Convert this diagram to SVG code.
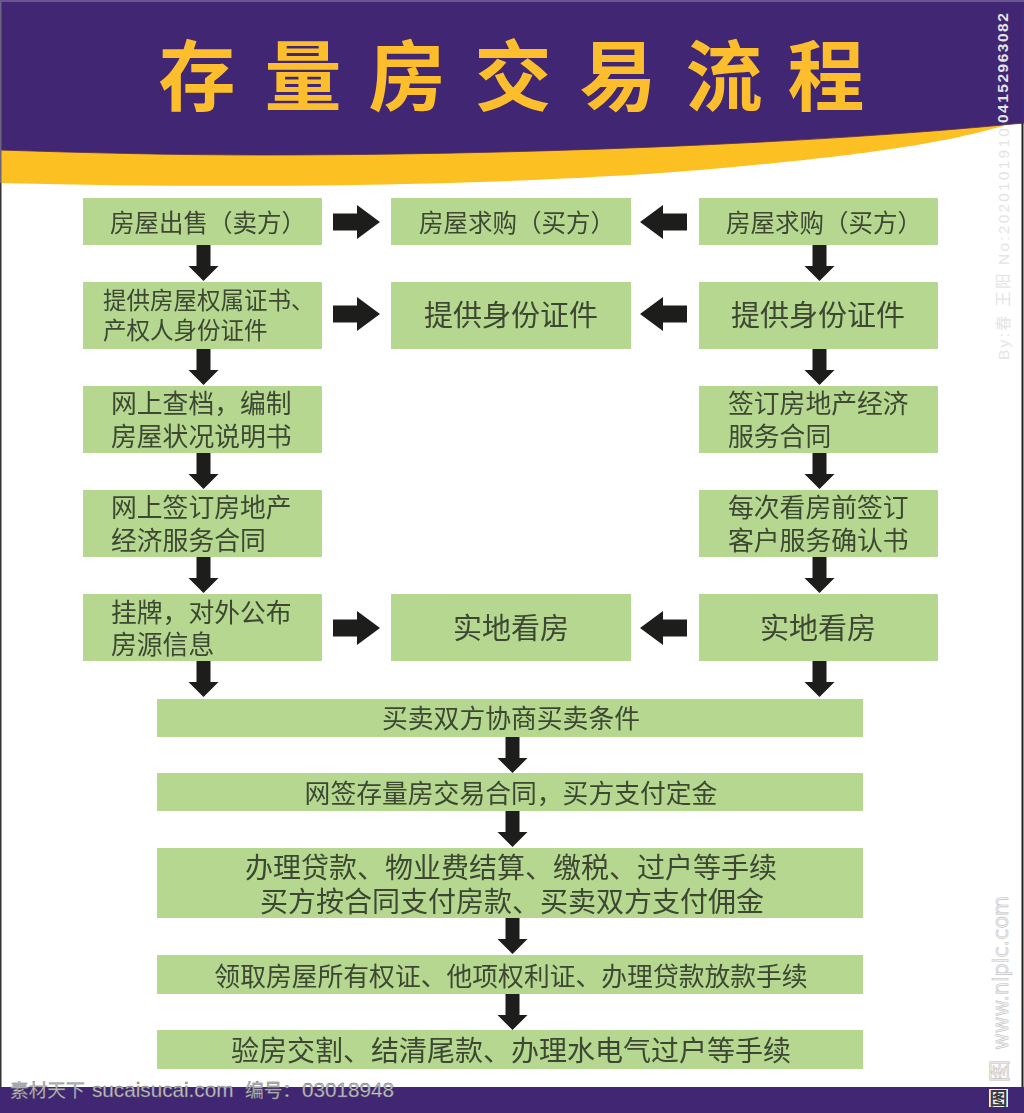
<svg xmlns="http://www.w3.org/2000/svg" width="1024" height="1113" viewBox="0 0 1024 1113">
<style>
.box{fill:#b5d78f}
.t{font-family:"Noto Sans CJK SC","Liberation Sans",sans-serif;fill:#3c4733;text-anchor:middle}
.s{text-anchor:start}
.title{font-family:"Noto Sans CJK SC",sans-serif;font-weight:700;font-size:77px;fill:#fdbe2d;text-anchor:middle}
.wm{font-family:"Liberation Sans","Noto Sans CJK SC",sans-serif;fill:#e4e4e4}
.wm2{font-family:"Liberation Sans","Noto Sans CJK SC",sans-serif;font-size:20.700px;fill:#c4c4c4;stroke:#666;stroke-width:.4}
.wm3{font-family:"DejaVu Sans","Noto Sans CJK SC",sans-serif;fill:#f4f4f4;stroke:#c4c4c4;stroke-width:.6}
</style>
<defs>
<filter id="soft" x="-5%" y="-20%" width="110%" height="140%"><feGaussianBlur stdDeviation="0.35"/></filter>
<path id="ad" d="M-7 0H7V21H15L0 36L-15 21H-7Z" fill="#1d1d1b"/>
<path id="ar" d="M0 -8.500H24V-17L47 0L24 17V8.500H0Z" fill="#1d1d1b"/>
<path id="al" d="M0 -8.500H-24V-17L-47 0L-24 17V8.500H0Z" fill="#1d1d1b"/>
</defs>
<rect width="1024" height="1113" fill="#fff"/>
<g id="header">
<path d="M0 140L1003 115V126C940 144 860 156 700 170C500 186 250 189 0 183Z" fill="#fdc022"/>
<path d="M0 150C90 153 180 155 263 155C500 155 800 145 1024 123V0H0Z" fill="#402673" stroke="#5a2b4a" stroke-width="0.800"/>
<rect x="0" y="0" width="1024" height="2" fill="#6a5590"/>
<rect x="0" y="2" width="1.500" height="181" fill="#6b6480"/>
<rect x="0" y="183" width="1.500" height="905" fill="#333"/>
<rect x="1021.500" y="123" width="2" height="965" fill="#222"/>
</g>
<g id="title">
<text class="title" y="105"><tspan x="197">存</tspan><tspan x="303">量</tspan><tspan x="407">房</tspan><tspan x="513">交</tspan><tspan x="618">易</tspan><tspan x="724">流</tspan><tspan x="826">程</tspan></text>
</g>
<rect id="footer" x="0" y="1087" width="1024" height="26" fill="#402673"/>
<g id="connectors">
<use href="#ad" x="203.500" y="245"/><use href="#ad" x="203.500" y="349"/><use href="#ad" x="203.500" y="453"/><use href="#ad" x="203.500" y="557"/><use href="#ad" x="203.500" y="661"/>
<use href="#ad" x="819.500" y="245"/><use href="#ad" x="819.500" y="349"/><use href="#ad" x="819.500" y="453"/><use href="#ad" x="819.500" y="557"/><use href="#ad" x="819.500" y="661"/>
<use href="#ad" x="512.500" y="737"/><use href="#ad" x="512.500" y="811"/><use href="#ad" x="512.500" y="918"/><use href="#ad" x="512.500" y="994"/>
<use href="#ar" x="333" y="222"/><use href="#ar" x="333" y="314"/><use href="#ar" x="333" y="628"/>
<use href="#al" x="687" y="222"/><use href="#al" x="687" y="314"/><use href="#al" x="687" y="628"/>
</g>
<g filter="url(#soft)">
<g id="n1"><rect class="box" x="83" y="198" width="239" height="47"/><text class="t" x="208" y="232" font-size="24.500">房屋出售（卖方）</text></g>
<g id="n2"><rect class="box" x="391" y="198" width="240" height="47"/><text class="t" x="517" y="232" font-size="24.500">房屋求购（买方）</text></g>
<g id="n3"><rect class="box" x="699" y="198" width="239" height="47"/><text class="t" x="824" y="232" font-size="24.500">房屋求购（买方）</text></g>
<g id="n4"><rect class="box" x="83" y="282" width="239" height="67"/><text class="t s" x="103" y="309" font-size="23.500">提供房屋权属证书、</text><text class="t s" x="103" y="339" font-size="23.500">产权人身份证件</text></g>
<g id="n5"><rect class="box" x="391" y="282" width="240" height="67"/><text class="t" x="511" y="326" font-size="29">提供身份证件</text></g>
<g id="n6"><rect class="box" x="699" y="282" width="239" height="67"/><text class="t" x="818" y="326" font-size="29">提供身份证件</text></g>
<g id="n7"><rect class="box" x="83" y="386" width="239" height="67"/><text class="t s" x="111" y="413" font-size="25.800">网上查档，编制</text><text class="t s" x="111" y="446" font-size="25.800">房屋状况说明书</text></g>
<g id="n8"><rect class="box" x="699" y="386" width="239" height="67"/><text class="t s" x="728" y="413" font-size="25.800">签订房地产经济</text><text class="t s" x="728" y="446" font-size="25.800">服务合同</text></g>
<g id="n9"><rect class="box" x="83" y="490" width="239" height="67"/><text class="t s" x="111" y="517" font-size="25.800">网上签订房地产</text><text class="t s" x="111" y="550" font-size="25.800">经济服务合同</text></g>
<g id="n10"><rect class="box" x="699" y="490" width="239" height="67"/><text class="t s" x="728" y="517" font-size="25.800">每次看房前签订</text><text class="t s" x="728" y="550" font-size="25.800">客户服务确认书</text></g>
<g id="n11"><rect class="box" x="83" y="594" width="239" height="67"/><text class="t s" x="111" y="622" font-size="25.800">挂牌，对外公布</text><text class="t s" x="111" y="654" font-size="25.800">房源信息</text></g>
<g id="n12"><rect class="box" x="391" y="594" width="240" height="67"/><text class="t" x="511" y="639" font-size="29">实地看房</text></g>
<g id="n13"><rect class="box" x="699" y="594" width="239" height="67"/><text class="t" x="818" y="639" font-size="29">实地看房</text></g>
<g id="n14"><rect class="box" x="157" y="699" width="706" height="38"/><text class="t" x="511" y="728" font-size="25.800">买卖双方协商买卖条件</text></g>
<g id="n15"><rect class="box" x="157" y="773" width="706" height="38"/><text class="t" x="511" y="803" font-size="25.800">网签存量房交易合同，买方支付定金</text></g>
<g id="n16"><rect class="box" x="157" y="848" width="706" height="70"/><text class="t" x="511" y="878" font-size="28">办理贷款、物业费结算、缴税、过户等手续</text><text class="t" x="512" y="912" font-size="28">买方按合同支付房款、买卖双方支付佣金</text></g>
<g id="n17"><rect class="box" x="157" y="955" width="706" height="39"/><text class="t" x="511" y="986" font-size="25.800">领取房屋所有权证、他项权利证、办理贷款放款手续</text></g>
<g id="n18"><rect class="box" x="157" y="1030" width="706" height="39"/><text class="t" x="511" y="1061" font-size="28">验房交割、结清尾款、办理水电气过户等手续</text></g>
</g>
<g id="watermarks">
<text class="wm2" y="1097"><tspan x="10" font-size="18.700" font-family="Noto Sans CJK SC">素材天下</tspan><tspan x="92">sucaisucai.com</tspan><tspan x="245" font-size="18.700" font-family="Noto Sans CJK SC">编号：</tspan><tspan x="302">03018948</tspan></text>
<text class="wm" transform="translate(1008 123) rotate(-90)" font-size="15.500" letter-spacing="1.500" font-weight="700" fill="#eee">04152963082</text>
<text class="wm" transform="translate(1009 360) rotate(-90)" font-size="15.500" letter-spacing="2.200">By:春 王阳 No:2020101910</text>
<text class="wm3" transform="translate(1008 1050) rotate(-90)" font-size="20.500">www.nipic.com</text>
<text class="wm3" transform="translate(1007 1082) rotate(-90)" font-size="22">图</text>
<rect x="989" y="1089" width="19" height="18" fill="#eee"/>
<text class="t" x="998.500" y="1105" font-size="18" font-weight="700" style="fill:#3a3a3a">图</text>
</g>
</svg>
